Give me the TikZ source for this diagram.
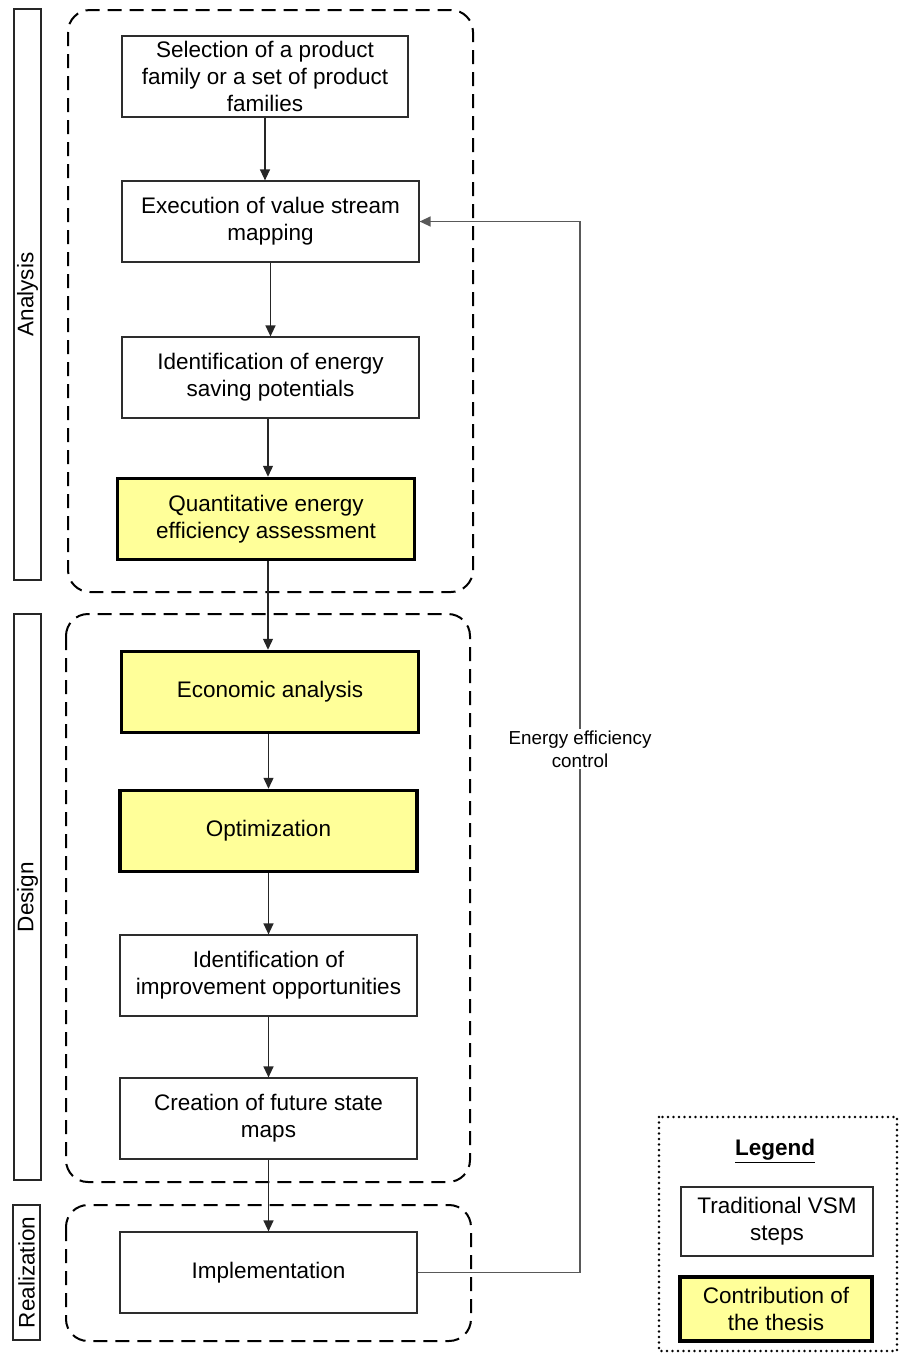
\documentclass[tikz,border=0pt]{standalone}
\usepackage{fontspec}
\setmainfont{Liberation Sans}
\usetikzlibrary{arrows.meta}
\definecolor{contrib}{RGB}{255,255,153}
\definecolor{thinline}{RGB}{45,45,45}
\begin{document}
\begin{tikzpicture}[x=1pt,y=-1pt,
  every node/.style={font=\fontsize{22.5}{27}\selectfont, align=center},
  stepbox/.style={draw=thinline, line width=1.2pt, fill=white, minimum width=297pt, minimum height=81pt, inner sep=0pt},
  thesisbox/.style={draw=black, line width=3.5pt, fill=contrib, minimum width=297pt, minimum height=81pt, inner sep=0pt},
  phase/.style={draw=black!85, line width=1.2pt, rotate=90, minimum height=27pt, inner sep=0pt},
  group/.style={draw=black, line width=2pt, dash pattern=on 14pt off 8pt, rounded corners=22pt},
  conn/.style={draw=black!85, line width=1.3pt, -{Triangle[length=11pt,width=10pt]}},
  fbline/.style={draw=black!65, line width=1.3pt, -{Triangle[length=11pt,width=10pt]}},
]
\useasboundingbox (0,0) rectangle (899,1353);

% phase labels
\node[phase, minimum width=571pt] (pa) at (27.5,294.5) {Analysis};
\node[phase, minimum width=566pt] (pd) at (27.5,897) {Design};
\node[phase, minimum width=135pt] (pr) at (26.5,1272.5) {Realization};

% groups
\draw[group] (68,10) rectangle (473,592);
\draw[group] (66,614) rectangle (470,1182);
\draw[group] (66,1205) rectangle (471,1341);

% steps
\node[stepbox, minimum width=286pt] (sel) at (265,76.5) {Selection of a product\\family or a set of product\\families};
\node[stepbox] (exe) at (270.5,221.5) {Execution of value stream\\mapping};
\node[stepbox] (ide) at (270.5,377.5) {Identification of energy\\saving potentials};
\node[thesisbox] (qua) at (266,519) {Quantitative energy\\efficiency assessment};
\node[thesisbox] (eco) at (270,692) {Economic analysis};
\node[thesisbox] (opt) at (268.5,831) {Optimization};
\node[stepbox] (imp) at (268.5,975.5) {Identification of\\improvement opportunities};
\node[stepbox] (cre) at (268.5,1118.5) {Creation of future state\\maps};
\node[stepbox] (impl) at (268.5,1272.5) {Implementation};

% connectors
\draw[conn] (sel.south) -- (sel.south |- exe.north);
\draw[conn] (exe.south) -- (exe.south |- ide.north);
\coordinate (c3) at (268,0);
\draw[conn] (ide.south -| c3) -- (qua.north -| c3);
\draw[conn] (qua.south -| c3) -- (eco.north -| c3);
\draw[conn] (eco.south -| opt.north) -- (opt.north);
\draw[conn] (opt.south) -- (imp.north);
\draw[conn] (imp.south) -- (cre.north);
\draw[conn] (cre.south) -- (impl.north);

% feedback loop
\coordinate (fb) at (580,0);
\draw[fbline] (impl.east) -- (impl.east -| fb) -- (exe.east -| fb) -- (exe.east);
\node[fill=white, font=\fontsize{18.8}{23}\selectfont, inner sep=2pt] (efc) at (580,749) {Energy efficiency\\control};

% legend
\draw[line width=2.6pt, dash pattern=on 0pt off 5.5pt, line cap=round] (659,1117) rectangle (897,1351);
\node (leg) at (775,1151) {\underline{\textbf{Legend}}};
\node[stepbox, minimum width=192pt, minimum height=69pt] (l1) at (777,1221.5) {Traditional VSM\\steps};
\node[thesisbox, minimum width=192pt, minimum height=64pt] (l2) at (776,1309) {Contribution of\\the thesis};
\end{tikzpicture}
\end{document}
